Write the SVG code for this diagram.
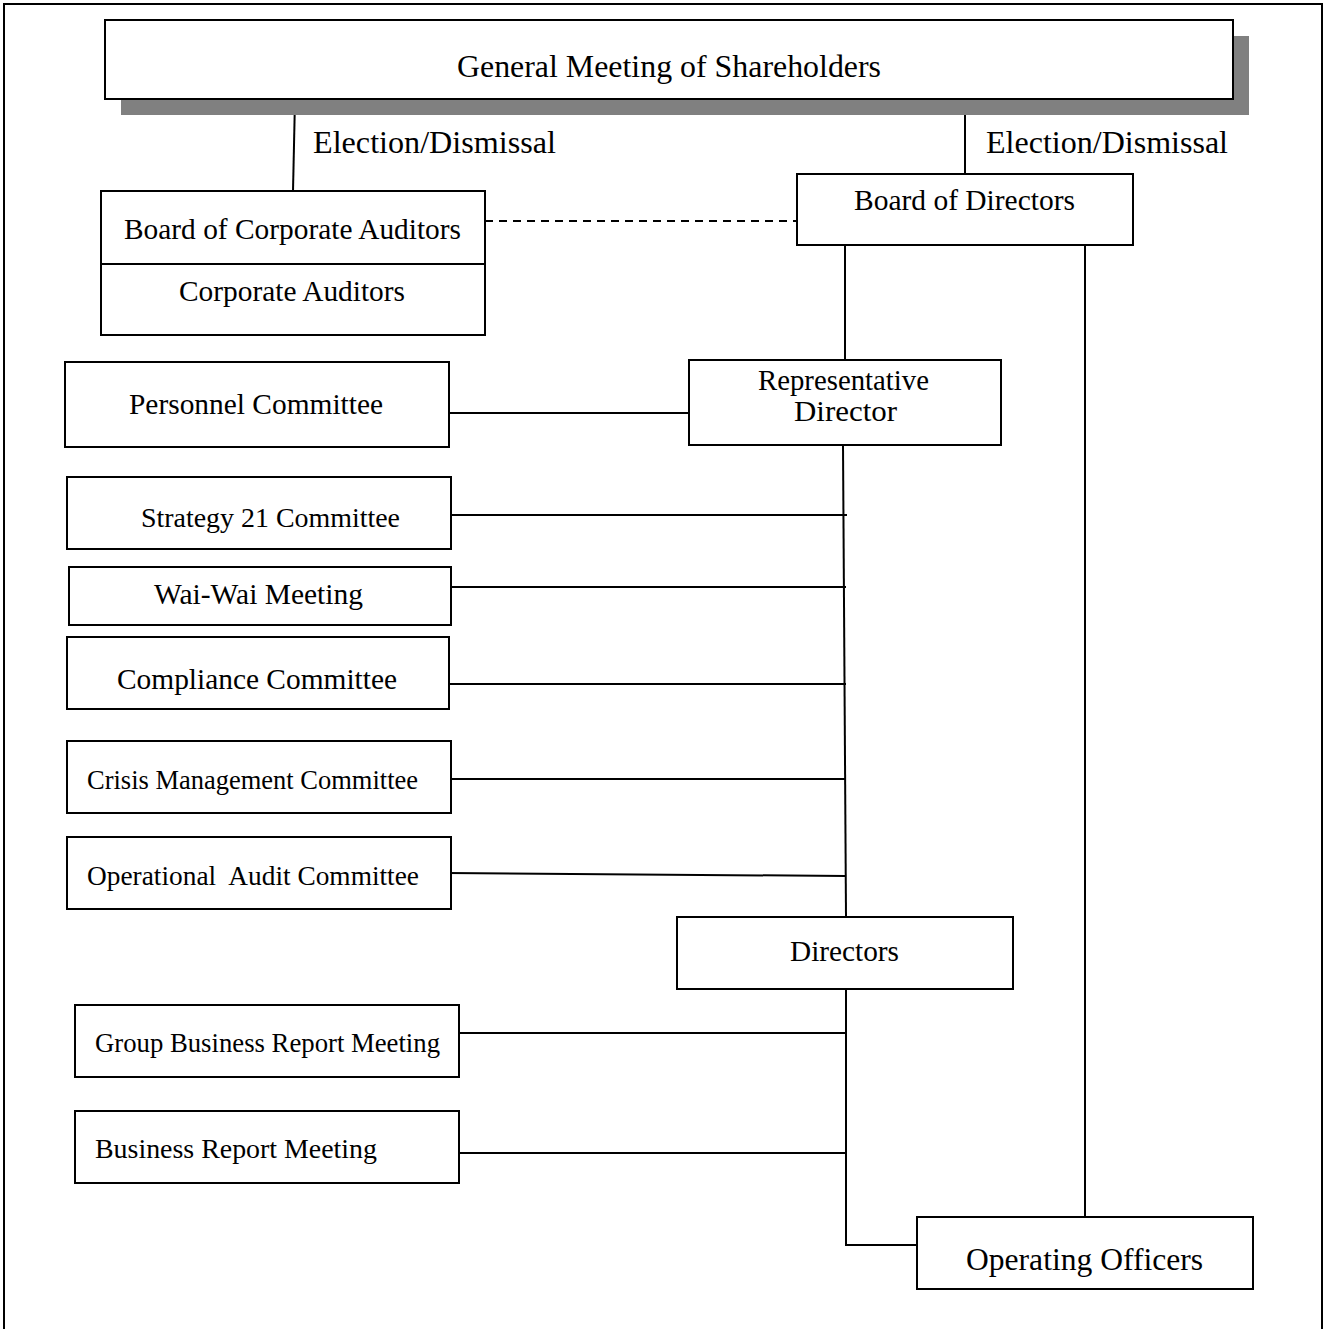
<svg xmlns="http://www.w3.org/2000/svg" width="1326" height="1329" viewBox="0 0 1326 1329">
<style>
.box{fill:#fff;stroke:#000;stroke-width:2}
.ln{fill:none;stroke:#000;stroke-width:2}
.dash{fill:none;stroke:#000;stroke-width:2;stroke-dasharray:8 6}
text{font-family:"Liberation Serif","Times New Roman",serif;fill:#000}
</style>
<rect x="0" y="0" width="1326" height="1329" fill="#fff"/>
<path class="ln" d="M4,1329 V4 H1322 V1329"/>
<g id="connectors">
<line class="ln" x1="295" y1="99" x2="293" y2="191"/>
<line class="ln" x1="965" y1="97" x2="965" y2="174"/>
<line class="dash" x1="485" y1="221" x2="797" y2="221"/>
<line class="ln" x1="845" y1="245" x2="845" y2="360"/>
<line class="ln" x1="1085" y1="245" x2="1085" y2="1218"/>
<line class="ln" x1="449" y1="413" x2="689" y2="413"/>
<line class="ln" x1="843" y1="445" x2="846" y2="917"/>
<line class="ln" x1="451" y1="515" x2="847" y2="515"/>
<line class="ln" x1="451" y1="587" x2="846" y2="587"/>
<line class="ln" x1="447" y1="684" x2="846" y2="684"/>
<line class="ln" x1="451" y1="779" x2="846" y2="779"/>
<line class="ln" x1="447" y1="873" x2="846" y2="876"/>
<path class="ln" d="M846,989 V1245 H917"/>
<line class="ln" x1="459" y1="1033" x2="846" y2="1033"/>
<line class="ln" x1="459" y1="1153" x2="846" y2="1153"/>
<text x="313" y="153" font-size="32" textLength="243" lengthAdjust="spacingAndGlyphs">Election/Dismissal</text>
<text x="986" y="153" font-size="32" textLength="242" lengthAdjust="spacingAndGlyphs">Election/Dismissal</text>
</g>
<g id="gms">
<rect x="121" y="36" width="1128" height="79" fill="#808080"/>
<rect class="box" x="105" y="20" width="1128" height="79"/>
<text x="457" y="77" font-size="32" textLength="424" lengthAdjust="spacingAndGlyphs">General Meeting of Shareholders</text>
</g>
<g id="auditors">
<rect class="box" x="101" y="191" width="384" height="144"/>
<line class="ln" x1="101" y1="264" x2="485" y2="264"/>
<text x="124" y="239" font-size="29" textLength="337" lengthAdjust="spacingAndGlyphs">Board of Corporate Auditors</text>
<text x="179" y="301" font-size="29" textLength="226" lengthAdjust="spacingAndGlyphs">Corporate Auditors</text>
</g>
<g id="board">
<rect class="box" x="797" y="174" width="336" height="71"/>
<text x="854" y="210" font-size="29" textLength="221" lengthAdjust="spacingAndGlyphs">Board of Directors</text>
</g>
<g id="repdir">
<rect class="box" x="689" y="360" width="312" height="85"/>
<text x="758" y="390" font-size="29" textLength="171" lengthAdjust="spacingAndGlyphs">Representative</text>
<text x="794" y="421" font-size="29" textLength="103" lengthAdjust="spacingAndGlyphs">Director</text>
</g>
<g id="personnel">
<rect class="box" x="65" y="362" width="384" height="85"/>
<text x="129" y="414" font-size="29" textLength="254" lengthAdjust="spacingAndGlyphs">Personnel Committee</text>
</g>
<g id="strategy21">
<rect class="box" x="67" y="477" width="384" height="72"/>
<text x="141" y="527" font-size="27" textLength="259" lengthAdjust="spacingAndGlyphs">Strategy 21 Committee</text>
</g>
<g id="waiwai">
<rect class="box" x="69" y="567" width="382" height="58"/>
<text x="154" y="604" font-size="29" textLength="209" lengthAdjust="spacingAndGlyphs">Wai-Wai Meeting</text>
</g>
<g id="compliance">
<rect class="box" x="67" y="637" width="382" height="72"/>
<text x="117" y="689" font-size="29" textLength="280" lengthAdjust="spacingAndGlyphs">Compliance Committee</text>
</g>
<g id="crisis">
<rect class="box" x="67" y="741" width="384" height="72"/>
<text x="87" y="789" font-size="26.5" textLength="331" lengthAdjust="spacingAndGlyphs">Crisis Management Committee</text>
</g>
<g id="opaudit">
<rect class="box" x="67" y="837" width="384" height="72"/>
<text x="87" y="885" font-size="27" textLength="332" lengthAdjust="spacingAndGlyphs" xml:space="preserve">Operational  Audit Committee</text>
</g>
<g id="directors">
<rect class="box" x="677" y="917" width="336" height="72"/>
<text x="790" y="961" font-size="29" textLength="109" lengthAdjust="spacingAndGlyphs">Directors</text>
</g>
<g id="groupbrm">
<rect class="box" x="75" y="1005" width="384" height="72"/>
<text x="95" y="1052" font-size="26.5" textLength="345" lengthAdjust="spacingAndGlyphs">Group Business Report Meeting</text>
</g>
<g id="brm">
<rect class="box" x="75" y="1111" width="384" height="72"/>
<text x="95" y="1158" font-size="27.5" textLength="282" lengthAdjust="spacingAndGlyphs">Business Report Meeting</text>
</g>
<g id="opofficers">
<rect class="box" x="917" y="1217" width="336" height="72"/>
<text x="966" y="1270" font-size="31.5" textLength="237" lengthAdjust="spacingAndGlyphs">Operating Officers</text>
</g>
</svg>
